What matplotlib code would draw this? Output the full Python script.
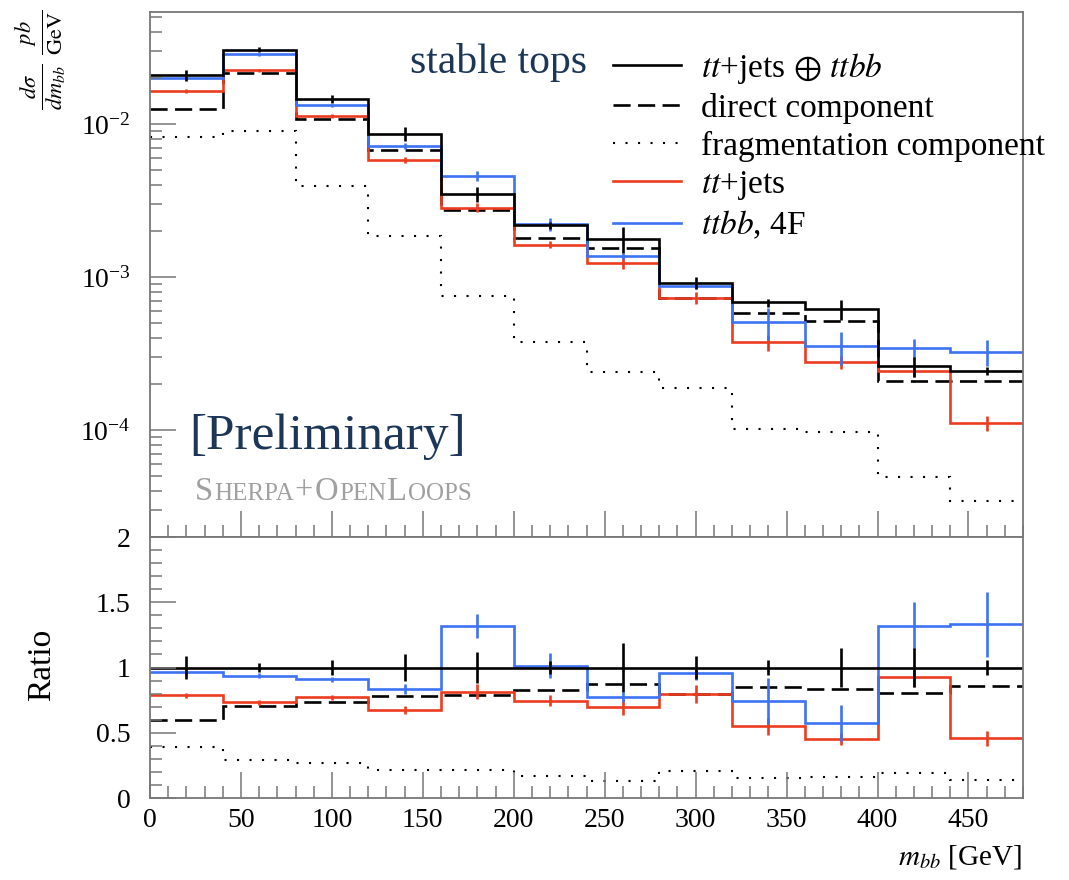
import matplotlib
matplotlib.use("Agg")
import matplotlib.pyplot as plt
import numpy as np
from matplotlib.lines import Line2D
from matplotlib.ticker import FixedLocator, MultipleLocator, FixedFormatter, LogLocator, NullFormatter

# ---------------- data ----------------
edges = [0, 40, 80, 120, 160, 200, 240, 280, 320, 360, 400, 440, 480]
total = [0.0209, 0.0306, 0.0146, 0.0086, 0.00348, 0.00218, 0.00178,
         0.000918, 0.000682, 0.000615, 0.000261, 0.000244]
ratio_direct = [0.601, 0.703, 0.737, 0.783, 0.791, 0.824, 0.870, 0.795, 0.849, 0.837, 0.806, 0.860]
ratio_frag = [0.394, 0.293, 0.268, 0.216, 0.216, 0.172, 0.134, 0.205, 0.150, 0.158, 0.190, 0.140]
ratio_ttjets = [0.788, 0.734, 0.772, 0.676, 0.816, 0.747, 0.696, 0.798, 0.548, 0.450, 0.931, 0.456]
ratio_ttbb = [0.962, 0.936, 0.910, 0.837, 1.320, 1.015, 0.772, 0.956, 0.742, 0.576, 1.320, 1.332]
err_total = [0.087, 0.038, 0.054, 0.105, 0.115, 0.050, 0.190, 0.090, 0.059, 0.146, 0.150, 0.059]
err_ttjets = [0.020, 0.020, 0.020, 0.030, 0.056, 0.040, 0.060, 0.070, 0.065, 0.045, 0.080, 0.054]
err_ttbb = [0.020, 0.020, 0.020, 0.038, 0.092, 0.097, 0.040, 0.050, 0.175, 0.140, 0.180, 0.250]

x_ticks = [0, 50, 100, 150, 200, 250, 300, 350, 400, 450]
ratio_ticks = [0, 0.5, 1, 1.5, 2]
ratio_labels = ["0", "0.5", "1", "1.5", "2"]

labels = [r"$tt$+jets $\oplus$ $ttbb$", "direct component", "fragmentation component",
          r"$tt$+jets", r"$ttbb$, 4F"]

# ---------------- style ----------------
plt.rcParams["font.family"] = ["Liberation Serif", "DejaVu Serif"]
plt.rcParams["mathtext.fontset"] = "stix"

RED = "#ec3b1f"
BLUE = "#3d72f2"
FRAME = "#777777"
LW = 1.9
DASH = (0, (6.5, 2.8))
DOT = (0, (1, 5))

W, H = 1069, 880
fig = plt.figure(figsize=(W / 100, H / 100), dpi=100)
ax1 = fig.add_axes([150 / W, 1 - 537 / H, 873 / W, 525 / H])
ax2 = fig.add_axes([150 / W, 1 - 798 / H, 873 / W, 261 / H])

edges_a = np.array(edges, dtype=float)
centers = 0.5 * (edges_a[1:] + edges_a[:-1])
tot = np.array(total)
r_dir = np.array(ratio_direct)
r_frag = np.array(ratio_frag)
r_tj = np.array(ratio_ttjets)
r_bb = np.array(ratio_ttbb)
e_tot = np.array(err_total)
e_tj = np.array(err_ttjets)
e_bb = np.array(err_ttbb)

# ---------- upper panel ----------
ax1.stairs(tot * r_frag, edges_a, color="black", lw=1.5, linestyle=DOT, baseline=None)
ax1.stairs(tot * r_dir, edges_a, color="black", lw=LW, linestyle=DASH, baseline=None)
ax1.stairs(tot * r_tj, edges_a, color=RED, lw=LW, baseline=None)
ax1.errorbar(centers, tot * r_tj, yerr=tot * e_tj, fmt="none", ecolor=RED, elinewidth=LW)
ax1.stairs(tot * r_bb, edges_a, color=BLUE, lw=LW, baseline=None)
ax1.errorbar(centers, tot * r_bb, yerr=tot * e_bb, fmt="none", ecolor=BLUE, elinewidth=LW)
ax1.stairs(tot, edges_a, color="black", lw=LW, baseline=None)
ax1.errorbar(centers, tot, yerr=tot * e_tot, fmt="none", ecolor="black", elinewidth=LW)

ax1.set_yscale("log")
ax1.set_xlim(0, 480)
ax1.set_ylim(2.0e-5, 0.054)
ax1.xaxis.set_major_locator(FixedLocator(x_ticks))
ax1.xaxis.set_minor_locator(MultipleLocator(10))
ax1.xaxis.set_major_formatter(NullFormatter())
ax1.yaxis.set_major_locator(LogLocator(base=10, numticks=10))
ax1.yaxis.set_minor_locator(LogLocator(base=10, subs=np.arange(2, 10), numticks=20))
ax1.yaxis.set_minor_formatter(NullFormatter())

# ---------- lower panel ----------
ax2.stairs(r_frag, edges_a, color="black", lw=1.5, linestyle=DOT, baseline=None)
ax2.stairs(r_dir, edges_a, color="black", lw=LW, linestyle=DASH, baseline=None)
ax2.stairs(r_tj, edges_a, color=RED, lw=LW, baseline=None)
ax2.errorbar(centers, r_tj, yerr=e_tj, fmt="none", ecolor=RED, elinewidth=LW)
ax2.stairs(r_bb, edges_a, color=BLUE, lw=LW, baseline=None)
ax2.errorbar(centers, r_bb, yerr=e_bb, fmt="none", ecolor=BLUE, elinewidth=LW)
ax2.stairs(np.ones_like(tot), edges_a, color="black", lw=LW, baseline=None)
ax2.errorbar(centers, np.ones_like(tot), yerr=e_tot, fmt="none", ecolor="black", elinewidth=LW)

ax2.set_xlim(0, 480)
ax2.set_ylim(0, 2)
ax2.xaxis.set_major_locator(FixedLocator(x_ticks))
ax2.xaxis.set_minor_locator(MultipleLocator(10))
ax2.yaxis.set_major_locator(FixedLocator(ratio_ticks))
ax2.yaxis.set_major_formatter(FixedFormatter(ratio_labels))
ax2.yaxis.set_minor_locator(MultipleLocator(0.1))

for ax in (ax1, ax2):
    for sp in ax.spines.values():
        sp.set_color(FRAME)
        sp.set_linewidth(1.3)
    ax.tick_params(which="both", direction="in", top=False, right=False, color=FRAME, width=1.1)
    ax.tick_params(which="major", length=19)
    ax.tick_params(which="minor", length=8.5)
ax1.tick_params(axis="y", which="major", labelsize=20, pad=14)
ax2.tick_params(axis="y", which="major", labelsize=20, pad=14)
ax2.tick_params(axis="x", which="major", labelsize=20, pad=7)

# labels
fig.text(42 / W, 1 - 60 / H, r"$\frac{d\sigma}{dm_{bb}}\ \frac{pb}{\mathrm{GeV}}$",
         rotation=90, ha="center", va="center", fontsize=23)
fig.text(42 / W, 1 - 665 / H, "Ratio", rotation=90, ha="center", va="center", fontsize=24)
fig.text(1022 / W, 1 - 857 / H, r"$m_{bb}$ [GeV]", ha="right", va="center", fontsize=21)

# annotations
fig.text(498 / W, 1 - 63 / H, "stable tops", ha="center", va="center", fontsize=30, color="#1c3658")
fig.text(328 / W, 1 - 437 / H, "[Preliminary]", ha="center", va="center", fontsize=37, color="#1c3658")

# small-caps Sherpa+OpenLoops
fig.canvas.draw()
renderer = fig.canvas.get_renderer()
parts = [("S", 23.5), ("HERPA", 18), ("+", 23.5), ("O", 23.5), ("PEN", 18), ("L", 23.5), ("OOPS", 18)]
xpix = 195.0
for txt, fs in parts:
    t = fig.text(xpix / W, 1 - 500 / H, txt, ha="left", va="baseline", fontsize=fs, color="#a0a0a0")
    bb = t.get_window_extent(renderer)
    xpix = bb.x1 + 1.0

# legend
handles = [Line2D([], [], color="black", lw=LW),
           Line2D([], [], color="black", lw=LW, linestyle=DASH),
           Line2D([], [], color="black", lw=1.5, linestyle=DOT),
           Line2D([], [], color=RED, lw=LW),
           Line2D([], [], color=BLUE, lw=LW)]
fig.legend(handles, labels, loc="upper left", bbox_to_anchor=(613 / W, 1 - 51 / H),
           frameon=False, fontsize=24, handlelength=2.05, handletextpad=0.58, labelspacing=0.21,
           borderpad=0, borderaxespad=0)

fig.savefig("out.png", dpi=100)
